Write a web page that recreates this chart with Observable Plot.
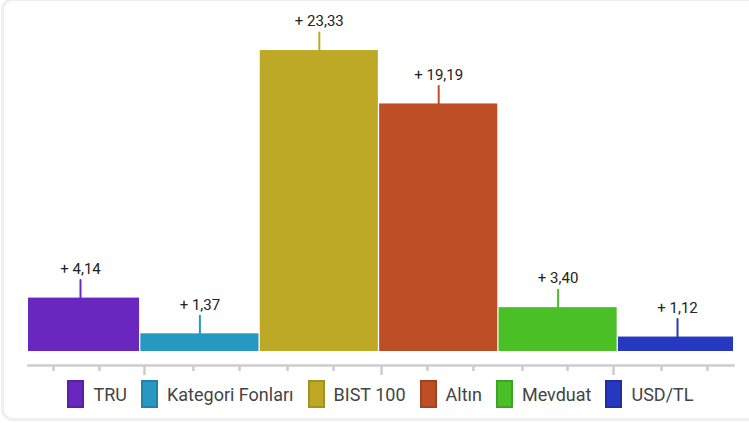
<!DOCTYPE html>
<html>
<head>
<meta charset="utf-8">
<script src="https://cdn.jsdelivr.net/npm/d3@7"></script>
<script src="https://cdn.jsdelivr.net/npm/@observablehq/plot@0.6"></script>
<style>
  html, body { margin: 0; padding: 0; background: #fff; width: 749px; height: 423px; overflow: hidden; }
  #card { position: absolute; left: 1px; top: -2px; width: 800px; height: 423px; border: 3px solid #efefef; border-radius: 12px; box-sizing: border-box; }
  #chart { position: absolute; left: 0; top: 0; }
  #legend { position: absolute; left: 28px; top: 380px; width: 705px; display: flex; justify-content: center; align-items: center; font-family: Roboto, sans-serif; font-size: 18px; color: #444; }
  .item { display: flex; align-items: center; margin: 0 7px; }
  .sw { width: 17px; height: 28px; box-sizing: border-box; border: 2px solid; margin-right: 9px; }
</style>
</head>
<body>
<div id="card"></div>
<div id="chart"></div>
<div id="legend"></div>
<script>
const categories = ["TRU", "Kategori Fonları", "BIST 100", "Altın", "Mevduat", "USD/TL"];
const values = [4.14, 1.37, 23.33, 19.19, 3.40, 1.12];
const colors = ["#6a27c0", "#2698c2", "#bda926", "#bd4e26", "#4bbf26", "#2638bf"];
const borderColors = ["#5a1fa6", "#1f82a8", "#a39220", "#a3421f", "#3ea320", "#1f2fa3"];
const minorTicks = [0.274, 0.659, 1.446, 1.832, 2.234, 2.619, 3.406, 3.791, 4.202, 4.579, 5.366, 5.751];
const majorTicks = [1.036, 3.021, 4.964];

const data = categories.map((c, i) => ({c, i, v: values[i]}));
const fmt = v => "+ " + v.toFixed(2).replace(".", ",");

const chart = Plot.plot({
  width: 749,
  height: 378,
  marginLeft: 28,
  marginRight: 16,
  marginTop: 28.5,
  marginBottom: 13,
  style: {fontFamily: "Roboto, sans-serif", background: "transparent"},
  x: {domain: [0.0645, 5.969], axis: null},
  y: {domain: [0, 25], range: [351, 28.5], axis: null},
  color: {domain: categories, range: colors},
  marks: [
    Plot.rect(data, {x1: "i", x2: d => d.i + 1, y1: 0, y2: "v", fill: "c", insetLeft: 0.65, insetRight: 0.65, clip: true}),
    Plot.vector(data, {
      x: d => d.i + 0.5, y: "v", length: 18, rotate: 0, anchor: "start",
      stroke: "c", strokeWidth: 2,
      shape: {draw(ctx, l) { ctx.moveTo(0, 0); ctx.lineTo(0, -l); }}
    }),
    Plot.text(data, {x: d => d.i + 0.5, y: "v", dy: -29, text: d => fmt(d.v), fontSize: 15, fill: "#222"}),
    Plot.frame({anchor: "bottom", stroke: "#cccccc", strokeWidth: 2.5}),
    Plot.axisX({ticks: minorTicks, tickSize: 6, tickFormat: () => "", label: null, stroke: "#cccccc", strokeWidth: 2.5}),
    Plot.axisX({ticks: majorTicks, tickSize: 10, tickFormat: () => "", label: null, stroke: "#cccccc", strokeWidth: 2.5})
  ]
});
document.getElementById("chart").appendChild(chart);

const legend = document.getElementById("legend");
categories.forEach((c, i) => {
  const item = document.createElement("div");
  item.className = "item";
  const sw = document.createElement("div");
  sw.className = "sw";
  sw.style.background = colors[i];
  sw.style.borderColor = borderColors[i];
  const t = document.createElement("span");
  t.textContent = c;
  item.appendChild(sw);
  item.appendChild(t);
  legend.appendChild(item);
});
</script>
</body>
</html>
